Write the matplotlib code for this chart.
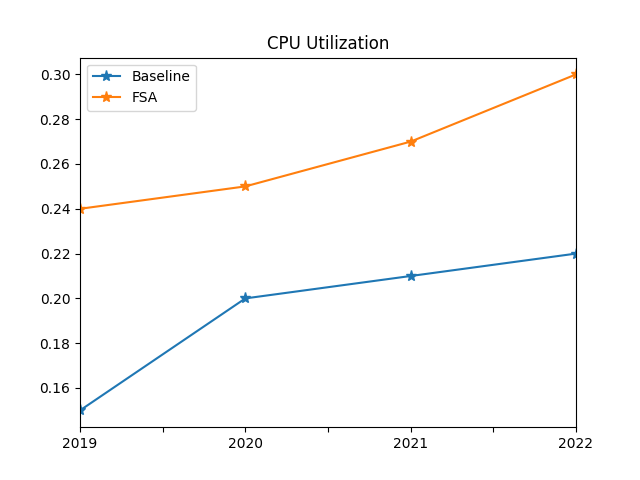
import numpy as np
import matplotlib.pyplot as plt
from matplotlib.ticker import FuncFormatter, MultipleLocator

years = [2019, 2020, 2021, 2022]
baseline = [0.15, 0.20, 0.21, 0.22]
fsa = [0.24, 0.25, 0.27, 0.30]

fig, ax = plt.subplots(figsize=(6.4, 4.8), dpi=100)
ax.plot(years, baseline, marker="*", markersize=8, label="Baseline")
ax.plot(years, fsa, marker="*", markersize=8, label="FSA")
ax.set_xlim(years[0], years[-1])
ax.xaxis.set_major_locator(MultipleLocator(0.5))
ax.xaxis.set_major_formatter(FuncFormatter(lambda v, p: str(int(round(v))) if abs(v - round(v)) < 1e-6 else ""))
ax.set_title("CPU Utilization")
ax.legend(loc="upper left")
plt.savefig("out.png")
